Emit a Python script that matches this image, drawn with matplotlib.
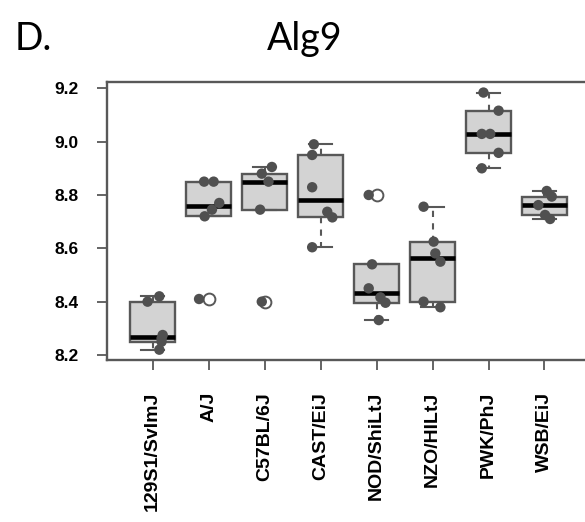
import numpy as np
import matplotlib
matplotlib.use("Agg")
import matplotlib.pyplot as plt

strains = ["129S1/SvImJ", "A/J", "C57BL/6J", "CAST/EiJ",
           "NOD/ShiLtJ", "NZO/HILtJ", "PWK/PhJ", "WSB/EiJ"]

# expression values per strain
v_129 = [8.42, 8.40, 8.275, 8.262, 8.25, 8.22]
v_aj = [8.85, 8.85, 8.77, 8.745, 8.72, 8.41]
v_b6 = [8.905, 8.88, 8.85, 8.745, 8.40]
v_cast = [8.99, 8.95, 8.829, 8.737, 8.716, 8.604]
v_nod = [8.80, 8.54, 8.45, 8.416, 8.396, 8.331]
v_nzo = [8.756, 8.625, 8.581, 8.55, 8.40, 8.379]
v_pwk = [9.184, 9.116, 9.029, 9.029, 8.958, 8.90]
v_wsb = [8.815, 8.794, 8.762, 8.725, 8.71]

# horizontal jitter of each point
j_129 = [0.12, -0.09, 0.18, 0.16, 0.16, 0.12]
j_aj = [-0.08, 0.09, 0.19, 0.06, -0.07, -0.17]
j_b6 = [0.13, -0.05, 0.07, -0.08, -0.05]
j_cast = [-0.12, -0.15, -0.15, 0.12, 0.21, -0.15]
j_nod = [-0.14, -0.08, -0.14, 0.07, 0.16, 0.04]
j_nzo = [-0.16, 0.02, 0.05, 0.14, -0.16, 0.14]
j_pwk = [-0.09, 0.18, -0.12, 0.03, 0.18, -0.12]
j_wsb = [0.04, 0.13, -0.11, 0.01, 0.10]

values = [v_129, v_aj, v_b6, v_cast, v_nod, v_nzo, v_pwk, v_wsb]
jitters = [j_129, j_aj, j_b6, j_cast, j_nod, j_nzo, j_pwk, j_wsb]

yticks = [8.2, 8.4, 8.6, 8.8, 9.0, 9.2]


def fivenum(x):
    x = np.sort(np.asarray(x, float))
    n = len(x)
    n4 = np.floor((n + 3) / 2) / 2
    d = np.array([1, n4, (n + 1) / 2, n + 1 - n4, n]) - 1
    return 0.5 * (x[np.floor(d).astype(int)] + x[np.ceil(d).astype(int)])


stats = []
for v in values:
    mn, lo, med, hi, mx = fivenum(v)
    iqr = hi - lo
    arr = np.asarray(v)
    inside = arr[(arr >= lo - 1.5 * iqr) & (arr <= hi + 1.5 * iqr)]
    fl = arr[(arr < lo - 1.5 * iqr) | (arr > hi + 1.5 * iqr)]
    stats.append(dict(med=med, q1=lo, q3=hi, whislo=inside.min(),
                      whishi=inside.max(), fliers=fl))

W, H = 585, 522
fig = plt.figure(figsize=(W / 100, H / 100), dpi=100)
ax = fig.add_axes([106.7 / W, (H - 360) / H, (590.4 - 106.7) / W, (360 - 81.7) / H])

edge = "#585858"
ax.bxp(stats, positions=range(1, 9), widths=0.8, capwidths=0.4,
       patch_artist=True, showfliers=True,
       boxprops=dict(facecolor="#d3d3d3", edgecolor=edge, linewidth=1.7),
       medianprops=dict(color="black", linewidth=3.3),
       whiskerprops=dict(color=edge, linewidth=1.5, linestyle=(0, (3, 3))),
       capprops=dict(color=edge, linewidth=1.5),
       flierprops=dict(marker="o", markerfacecolor="white",
                       markeredgecolor=edge, markersize=8.5, markeredgewidth=1.4))

for i, (v, j) in enumerate(zip(values, jitters)):
    ax.scatter(np.array(j) + i + 1, v, s=56, color="#505050", zorder=5,
               edgecolors="none")

ax.set_xlim(0.18, 8.82)
ax.set_ylim(8.1813, 9.2247)
ax.set_yticks(yticks)
ax.set_yticklabels([f"{t:.1f}" for t in yticks], fontsize=12.5,
                   fontweight="bold", family="Liberation Sans")
ax.set_xticks(range(1, 9))
ax.set_xticklabels(strains, rotation=90, fontsize=14, fontweight="bold",
                   family="Liberation Sans")
ax.tick_params(axis="both", length=7, width=1.3, color=edge, pad=13)
ax.tick_params(axis="x", pad=16)
for s in ax.spines.values():
    s.set_color(edge)
    s.set_linewidth(1.7)

fig.text(15 / W, (H - 50) / H, "D.", fontsize=27, family="Lato",
         va="baseline", ha="left")
fig.text(304.5 / W, (H - 50) / H, "Alg9", fontsize=27, family="Lato",
         va="baseline", ha="center")

fig.savefig("out.png", dpi=100)
